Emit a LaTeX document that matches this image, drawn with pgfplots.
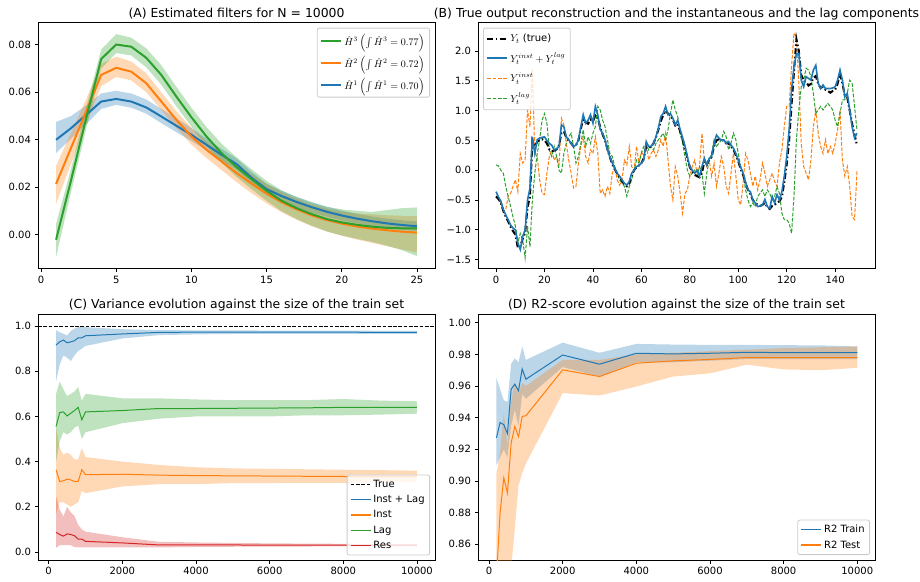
\documentclass[border=0pt]{standalone}
\usepackage{fontspec}
\setmainfont{DejaVu Sans}
\usepackage{pgfplots}
\usepackage{pgfplotstable}
\pgfplotsset{compat=1.18}
\usepgfplotslibrary{fillbetween}
\definecolor{c0}{HTML}{1F77B4}
\definecolor{c1}{HTML}{FF7F0E}
\definecolor{c2}{HTML}{2CA02C}
\definecolor{c3}{HTML}{D62728}
\definecolor{lgray}{HTML}{CCCCCC}

\pgfplotstableread{
x m lo hi
1 0.0400 0.0344 0.0475
2 0.0449 0.0405 0.0500
3 0.0505 0.0465 0.0545
4 0.0561 0.0530 0.0595
5 0.0572 0.0547 0.0606
6 0.0561 0.0535 0.0595
7 0.0536 0.0510 0.0570
8 0.0498 0.0470 0.0530
9 0.0459 0.0432 0.0490
10 0.0421 0.0395 0.0450
11 0.0379 0.0355 0.0405
12 0.0337 0.0313 0.0362
13 0.0298 0.0274 0.0322
14 0.0240 0.0217 0.0265
15 0.0192 0.0170 0.0215
16 0.0163 0.0141 0.0185
17 0.0138 0.0116 0.0160
18 0.0116 0.0094 0.0138
19 0.0097 0.0076 0.0118
20 0.0081 0.0060 0.0102
21 0.0068 0.0048 0.0088
22 0.0057 0.0037 0.0077
23 0.0048 0.0028 0.0068
24 0.0041 0.0021 0.0061
25 0.0036 0.0016 0.0056
}\tAone
\pgfplotstableread{
x m lo hi
1 0.0214 0.0130 0.0290
2 0.0366 0.0300 0.0430
3 0.0519 0.0465 0.0570
4 0.0673 0.0625 0.0720
5 0.0703 0.0665 0.0750
6 0.0687 0.0650 0.0730
7 0.0638 0.0600 0.0680
8 0.0561 0.0525 0.0600
9 0.0484 0.0450 0.0520
10 0.0414 0.0380 0.0450
11 0.0358 0.0323 0.0393
12 0.0309 0.0273 0.0345
13 0.0260 0.0222 0.0298
14 0.0215 0.0175 0.0255
15 0.0173 0.0132 0.0214
16 0.0137 0.0095 0.0179
17 0.0107 0.0063 0.0151
18 0.0082 0.0036 0.0128
19 0.0062 0.0014 0.0110
20 0.0047 -0.0004 0.0098
21 0.0035 -0.0020 0.0090
22 0.0026 -0.0034 0.0086
23 0.0019 -0.0048 0.0082
24 0.0013 -0.0062 0.0080
25 0.0009 -0.0075 0.0078
}\tAtwo
\pgfplotstableread{
x m lo hi
1 -0.0021 -0.0095 0.0045
2 0.0230 0.0180 0.0280
3 0.0490 0.0445 0.0535
4 0.0740 0.0700 0.0780
5 0.0801 0.0765 0.0845
6 0.0792 0.0755 0.0830
7 0.0745 0.0705 0.0785
8 0.0673 0.0632 0.0714
9 0.0582 0.0541 0.0623
10 0.0495 0.0455 0.0535
11 0.0414 0.0374 0.0454
12 0.0344 0.0304 0.0384
13 0.0285 0.0244 0.0326
14 0.0234 0.0192 0.0276
15 0.0185 0.0143 0.0227
16 0.0143 0.0099 0.0187
17 0.0112 0.0066 0.0158
18 0.0087 0.0038 0.0136
19 0.0066 0.0014 0.0118
20 0.0052 -0.0003 0.0107
21 0.0042 -0.0017 0.0101
22 0.0034 -0.0030 0.0096
23 0.0029 -0.0046 0.0104
24 0.0027 -0.0065 0.0112
25 0.0027 -0.0090 0.0115
}\tAthree

\pgfplotstableread{
t y yh yi yl
0 -0.44 -0.36 -0.44 0.09
1 -0.48 -0.45 -0.50 0.07
2 -0.55 -0.52 -0.55 0.00
3 -0.68 -0.66 -0.70 -0.05
4 -0.78 -0.75 -0.66 -0.27
5 -0.86 -0.83 -0.44 -0.44
6 -0.95 -0.92 -0.39 -0.61
7 -1.02 -0.97 -0.27 -0.78
8 -1.08 -1.00 -0.16 -0.94
9 -1.30 -1.22 -0.36 -1.22
10 -1.28 -1.33 0.28 -1.06
11 -1.15 -1.11 0.12 -1.17
12 -1.05 -1.00 0.17 -1.47
13 -0.62 -0.50 1.01 -0.94
14 -0.45 -0.30 0.73 -1.28
15 0.50 0.56 1.68 -0.50
16 0.40 0.28 0.28 -0.05
17 0.48 0.51 0.23 0.28
18 0.50 0.54 -0.16 0.51
19 0.52 0.55 -0.39 0.84
20 0.50 0.56 -0.41 0.95
21 0.45 0.50 -0.05 0.79
22 0.35 0.45 0.23 0.34
23 0.32 0.42 0.34 0.23
24 0.33 0.34 0.17 0.40
25 0.35 0.36 0.23 0.23
26 0.42 0.40 0.09 0.00
27 0.62 0.76 0.87 -0.05
28 0.65 0.73 0.76 0.28
29 0.55 0.56 0.45 0.45
30 0.50 0.51 0.17 0.56
31 0.45 0.45 -0.05 0.62
32 0.40 0.40 -0.30 0.40
33 0.42 0.42 -0.27 0.12
34 0.50 0.51 0.12 0.23
35 0.70 0.73 0.40 0.45
36 0.85 0.93 0.56 0.68
37 0.80 0.79 0.23 0.40
38 0.78 0.84 0.12 0.56
39 0.85 0.93 0.34 0.45
40 0.82 0.79 0.28 0.62
41 0.92 1.07 0.56 0.73
42 0.88 0.93 0.28 1.07
43 0.72 0.68 -0.39 1.01
44 0.60 0.62 -0.33 0.84
45 0.50 0.51 -0.44 0.73
46 0.35 0.34 -0.27 0.51
47 0.22 0.22 -0.39 0.28
48 0.10 0.12 -0.05 0.23
49 0.02 0.03 0.06 0.06
50 -0.06 -0.05 -0.16 -0.05
51 -0.12 -0.10 -0.25 -0.16
52 -0.18 -0.16 -0.16 -0.22
53 -0.24 -0.22 0.17 -0.27
54 -0.27 -0.25 0.09 -0.44
55 -0.22 -0.19 0.40 -0.27
56 -0.08 -0.05 0.06 -0.16
57 0.00 0.00 0.00 0.00
58 0.05 0.06 0.40 0.17
59 0.08 0.08 0.12 0.12
60 0.12 0.12 0.31 0.28
61 0.20 0.17 0.23 0.40
62 0.40 0.48 0.45 0.45
63 0.38 0.40 0.17 0.34
64 0.40 0.40 0.28 0.40
65 0.45 0.45 0.34 0.34
66 0.55 0.56 0.23 0.45
67 0.68 0.70 0.34 0.51
68 0.82 0.90 0.51 0.56
69 0.92 0.95 0.40 0.62
70 1.00 1.07 0.62 0.51
71 0.95 0.93 0.17 0.68
72 0.92 0.95 -0.27 0.95
73 0.85 0.87 -0.50 1.18
74 0.75 0.76 0.06 1.01
75 0.78 0.84 -0.10 0.90
76 0.65 0.68 -0.39 0.62
77 0.52 0.55 -0.72 0.45
78 0.38 0.40 -0.39 0.23
79 0.20 0.22 -0.33 0.00
80 0.05 0.06 -0.10 -0.10
81 -0.02 0.00 0.06 -0.05
82 -0.08 -0.05 0.17 0.00
83 -0.10 0.00 -0.05 -0.10
84 -0.12 -0.10 0.06 0.06
85 -0.05 0.06 0.62 -0.05
86 0.15 0.20 0.17 -0.39
87 0.10 0.09 0.06 -0.05
88 0.18 0.20 0.17 0.17
89 0.22 0.23 -0.10 0.28
90 0.40 0.45 0.12 0.51
91 0.50 0.59 -0.27 0.40
92 0.52 0.54 -0.05 0.45
93 0.50 0.50 0.23 0.51
94 0.50 0.51 0.06 0.65
95 0.45 0.45 -0.27 0.56
96 0.45 0.48 -0.39 0.34
97 0.40 0.42 -0.05 0.45
98 0.35 0.37 0.28 0.62
99 0.25 0.28 -0.10 0.51
100 0.15 0.17 -0.50 0.28
101 0.02 0.05 -0.58 0.06
102 -0.08 -0.05 -0.22 -0.05
103 -0.22 -0.20 0.28 -0.33
104 -0.33 -0.33 0.17 -0.50
105 -0.40 -0.36 -0.05 -0.61
106 -0.50 -0.50 -0.27 -0.55
107 -0.55 -0.55 -0.10 -0.61
108 -0.58 -0.61 -0.33 -0.44
109 -0.60 -0.60 -0.16 -0.39
110 -0.58 -0.58 0.12 -0.33
111 -0.55 -0.49 -0.05 -0.44
112 -0.62 -0.61 -0.27 -0.33
113 -0.65 -0.64 -0.16 -0.39
114 -0.60 -0.44 -0.05 -0.50
115 -0.58 -0.55 -0.19 -0.44
116 -0.55 -0.41 -0.27 -0.27
117 -0.52 -0.50 0.12 -0.39
118 -0.45 -0.36 0.34 -0.72
119 -0.20 -0.10 0.73 -0.83
120 0.10 0.23 1.07 -0.83
121 0.50 0.68 1.07 -0.89
122 1.10 1.35 1.74 -1.06
123 1.65 1.74 2.30 -0.44
124 2.20 1.95 2.24 0.51
125 2.00 1.96 1.46 1.01
126 1.60 1.51 0.45 1.40
127 1.50 1.40 0.06 1.51
128 1.48 1.57 -0.05 1.71
129 1.42 1.54 -0.16 1.68
130 1.45 1.51 0.17 1.57
131 1.55 1.68 0.73 1.29
132 1.58 1.76 1.01 0.95
133 1.45 1.46 0.62 1.01
134 1.38 1.37 0.40 1.07
135 1.40 1.43 0.28 1.01
136 1.35 1.37 0.51 1.07
137 1.33 1.37 0.28 1.12
138 1.30 1.37 0.40 1.07
139 1.33 1.38 0.28 1.01
140 1.35 1.40 0.45 0.84
141 1.45 1.51 0.68 0.73
142 1.62 1.68 1.01 0.95
143 1.45 1.51 0.17 1.18
144 1.25 1.23 -0.10 1.18
145 1.22 1.29 0.06 1.29
146 1.00 1.01 -0.27 1.51
147 0.78 0.73 -0.78 1.46
148 0.60 0.54 -0.83 1.07
149 0.42 0.62 -0.02 0.68
}\tB

\pgfplotstableread{
x m lo hi
200 0.916 0.755 0.982
300 0.930 0.830 0.972
400 0.938 0.870 0.966
500 0.926 0.860 0.958
600 0.930 0.845 0.978
700 0.935 0.870 0.988
800 0.948 0.890 0.996
900 0.948 0.900 0.996
1000 0.957 0.912 0.995
2000 0.965 0.945 0.986
3000 0.972 0.960 0.982
4000 0.973 0.963 0.981
5000 0.973 0.965 0.981
6000 0.973 0.965 0.980
7000 0.973 0.965 0.980
8000 0.973 0.965 0.980
9000 0.972 0.965 0.979
10000 0.972 0.965 0.979
}\tCil
\pgfplotstableread{
x m lo hi
200 0.364 0.170 0.550
300 0.312 0.220 0.460
400 0.315 0.220 0.430
500 0.322 0.210 0.440
600 0.319 0.200 0.430
700 0.312 0.210 0.410
800 0.312 0.220 0.410
900 0.364 0.270 0.460
1000 0.342 0.260 0.420
2000 0.344 0.290 0.400
3000 0.340 0.300 0.385
4000 0.338 0.300 0.375
5000 0.337 0.305 0.370
6000 0.336 0.305 0.368
7000 0.335 0.306 0.366
8000 0.334 0.306 0.364
9000 0.334 0.308 0.362
10000 0.334 0.310 0.360
}\tCi
\pgfplotstableread{
x m lo hi
200 0.555 0.400 0.700
300 0.617 0.490 0.754
400 0.620 0.530 0.720
500 0.602 0.520 0.690
600 0.614 0.530 0.700
700 0.626 0.550 0.710
800 0.640 0.560 0.730
900 0.585 0.500 0.670
1000 0.620 0.530 0.700
2000 0.626 0.570 0.680
3000 0.635 0.590 0.680
4000 0.635 0.600 0.675
5000 0.636 0.600 0.672
6000 0.637 0.600 0.672
7000 0.638 0.605 0.672
8000 0.640 0.605 0.677
9000 0.640 0.608 0.670
10000 0.640 0.612 0.667
}\tCl
\pgfplotstableread{
x m lo hi
200 0.087 0.018 0.246
300 0.077 0.030 0.187
400 0.070 0.030 0.157
500 0.080 0.030 0.200
600 0.077 0.030 0.175
700 0.072 0.022 0.160
800 0.057 0.020 0.120
900 0.057 0.020 0.100
1000 0.047 0.020 0.090
2000 0.040 0.020 0.065
3000 0.031 0.020 0.045
4000 0.031 0.022 0.042
5000 0.031 0.023 0.040
6000 0.030 0.024 0.038
7000 0.030 0.024 0.037
8000 0.030 0.025 0.036
9000 0.030 0.025 0.035
10000 0.030 0.025 0.035
}\tCr

\pgfplotstableread{
x m lo hi
200 0.9272 0.910 0.965
300 0.9370 0.915 0.958
400 0.9356 0.920 0.951
500 0.9300 0.915 0.950
600 0.9580 0.935 0.974
700 0.9612 0.945 0.9775
800 0.9570 0.935 0.975
900 0.9708 0.955 0.985
1000 0.9643 0.952 0.9765
2000 0.9796 0.972 0.9874
3000 0.9738 0.966 0.981
4000 0.9807 0.975 0.9866
5000 0.9803 0.975 0.9862
6000 0.9807 0.976 0.986
7000 0.9813 0.977 0.986
8000 0.9811 0.977 0.9858
9000 0.9811 0.977 0.9857
10000 0.9811 0.977 0.985
}\tDtr
\pgfplotstableread{
x m lo hi
200 0.8390 0.780 0.905
300 0.8800 0.820 0.918
400 0.9020 0.840 0.943
500 0.8925 0.840 0.922
600 0.9240 0.845 0.950
700 0.9345 0.870 0.962
800 0.9280 0.897 0.955
900 0.9408 0.905 0.962
1000 0.9412 0.911 0.960
2000 0.9702 0.9555 0.9765
3000 0.9660 0.954 0.9765
4000 0.9744 0.9597 0.980
5000 0.9759 0.966 0.981
6000 0.9768 0.968 0.982
7000 0.9780 0.9735 0.983
8000 0.9780 0.9705 0.984
9000 0.9780 0.970 0.9845
10000 0.9780 0.9715 0.985
}\tDte

\pgfplotsset{
  mpl/.style={
    scale only axis, width=397pt, height=246pt,
    scaled ticks=false,
    axis line style={line width=0.8pt, black},
    tick style={line width=0.8pt, black},
    major tick length=3.5pt,
    tick align=outside, xtick pos=bottom, ytick pos=left,
    minor tick num=0,
    ticklabel style={font=\fontsize{10}{12}\selectfont},
    every axis title/.style={at={(0.5,1)}, anchor=base, yshift=5.5pt, inner sep=0pt, font=\fontsize{12.4}{14}\selectfont},
    legend style={font=\fontsize{10}{12}\selectfont, draw=lgray, line width=0.8pt, rounded corners=2pt,
      fill=white, fill opacity=0.8, text opacity=1, draw opacity=1,
      inner xsep=3pt, inner ysep=3pt, row sep=1pt,
      nodes={inner sep=2pt}},
    legend cell align=left,
    legend image code/.code={\draw[##1] (0pt,0pt) -- (20pt,0pt);},
  },
  band/.style={draw=none, fill=#1, fill opacity=0.3, forget plot},
}

\begin{document}
\begin{tikzpicture}
\path (0,0) rectangle (920pt,-581pt);

% ---------- (A)
\begin{axis}[mpl, at={(38pt,-22.7pt)}, anchor=north west,
  title={(A) Estimated filters for N = 10000},
  xmin=-0.2, xmax=26.2, ymin=-0.0143, ymax=0.0893,
  xtick={0,5,10,15,20,25}, xticklabels={0,5,10,15,20,25},
  ytick={0,0.02,0.04,0.06,0.08}, yticklabels={0.00,0.02,0.04,0.06,0.08},
  legend style={at={(1,1)}, xshift=-5pt, yshift=-5pt, anchor=north east, row sep=5pt, inner ysep=4pt},
]
\addplot[draw=none, name path=a1u, forget plot] table[x=x,y=hi]{\tAone};
\addplot[draw=none, name path=a1l, forget plot] table[x=x,y=lo]{\tAone};
\addplot[band=c0] fill between[of=a1u and a1l];
\addplot[draw=c0, line width=2pt, forget plot] table[x=x,y=m]{\tAone};
\addplot[draw=none, name path=a2u, forget plot] table[x=x,y=hi]{\tAtwo};
\addplot[draw=none, name path=a2l, forget plot] table[x=x,y=lo]{\tAtwo};
\addplot[band=c1] fill between[of=a2u and a2l];
\addplot[draw=c1, line width=2pt, forget plot] table[x=x,y=m]{\tAtwo};
\addplot[draw=none, name path=a3u, forget plot] table[x=x,y=hi]{\tAthree};
\addplot[draw=none, name path=a3l, forget plot] table[x=x,y=lo]{\tAthree};
\addplot[band=c2] fill between[of=a3u and a3l];
\addplot[draw=c2, line width=2pt, forget plot] table[x=x,y=m]{\tAthree};
\addlegendimage{draw=c2, line width=2pt}
\addlegendentry{$\hat{H}^3\left(\int\hat{H}^3 = 0.77\right)$}
\addlegendimage{draw=c1, line width=2pt}
\addlegendentry{$\hat{H}^2\left(\int\hat{H}^2 = 0.72\right)$}
\addlegendimage{draw=c0, line width=2pt}
\addlegendentry{$\hat{H}^1\left(\int\hat{H}^1 = 0.70\right)$}
\end{axis}

% ---------- (B)
\begin{axis}[mpl, at={(478pt,-22.7pt)}, anchor=north west,
  title={(B) True output reconstruction and the instantaneous and the lag components},
  xmin=-7.45, xmax=156.45, ymin=-1.652, ymax=2.474,
  xtick={0,20,40,60,80,100,120,140}, xticklabels={0,20,40,60,80,100,120,140},
  ytick={-1.5,-1,-0.5,0,0.5,1,1.5,2}, yticklabels={−1.5,−1.0,−0.5,0.0,0.5,1.0,1.5,2.0},
  legend style={at={(0,1)}, xshift=5pt, yshift=-5pt, anchor=north west, row sep=5.5pt, inner ysep=4pt},
]
\addplot[draw=c1, line width=1pt, dash pattern=on 3.7pt off 1.6pt, forget plot] table[x=t,y=yi]{\tB};
\addplot[draw=c2, line width=1pt, dash pattern=on 3.7pt off 1.6pt, forget plot] table[x=t,y=yl]{\tB};
\addplot[draw=black, line width=2pt, dash pattern=on 6pt off 2.5pt on 1.5pt off 2.5pt, forget plot] table[x=t,y=y]{\tB};
\addplot[draw=c0, line width=1.6pt, forget plot] table[x=t,y=yh]{\tB};
\addlegendimage{draw=black, line width=2pt, dash pattern=on 6pt off 2.5pt on 1.5pt off 2.5pt}
\addlegendentry{$Y_t$ (true)}
\addlegendimage{draw=c0, line width=1.6pt}
\addlegendentry{$Y_t^{inst} + Y_t^{lag}$}
\addlegendimage{draw=c1, line width=1.2pt, dash pattern=on 3.7pt off 1.6pt}
\addlegendentry{$Y_t^{inst}$}
\addlegendimage{draw=c2, line width=1.2pt, dash pattern=on 3.7pt off 1.6pt}
\addlegendentry{$Y_t^{lag}$}
\end{axis}

% ---------- (C)
\begin{axis}[mpl, at={(38pt,-314.3pt)}, anchor=north west,
  title={(C) Variance evolution against the size of the train set},
  xmin=-290, xmax=10490, ymin=-0.037, ymax=1.052,
  xtick={0,2000,4000,6000,8000,10000}, xticklabels={0,2000,4000,6000,8000,10000},
  ytick={0,0.2,0.4,0.6,0.8,1}, yticklabels={0.0,0.2,0.4,0.6,0.8,1.0},
  legend style={at={(1,0)}, xshift=-5pt, yshift=5pt, anchor=south east, row sep=2.5pt, inner ysep=3pt},
]
\addplot[draw=black, line width=1pt, dash pattern=on 3.7pt off 1.6pt, forget plot] coordinates {(-290,1) (10490,1)};
\addplot[draw=none, name path=c1u, forget plot] table[x=x,y=hi]{\tCil};
\addplot[draw=none, name path=c1l, forget plot] table[x=x,y=lo]{\tCil};
\addplot[band=c0] fill between[of=c1u and c1l];
\addplot[draw=c0, line width=1pt, forget plot] table[x=x,y=m]{\tCil};
\addplot[draw=none, name path=c2u, forget plot] table[x=x,y=hi]{\tCi};
\addplot[draw=none, name path=c2l, forget plot] table[x=x,y=lo]{\tCi};
\addplot[band=c1] fill between[of=c2u and c2l];
\addplot[draw=c1, line width=1pt, forget plot] table[x=x,y=m]{\tCi};
\addplot[draw=none, name path=c3u, forget plot] table[x=x,y=hi]{\tCl};
\addplot[draw=none, name path=c3l, forget plot] table[x=x,y=lo]{\tCl};
\addplot[band=c2] fill between[of=c3u and c3l];
\addplot[draw=c2, line width=1pt, forget plot] table[x=x,y=m]{\tCl};
\addplot[draw=none, name path=c4u, forget plot] table[x=x,y=hi]{\tCr};
\addplot[draw=none, name path=c4l, forget plot] table[x=x,y=lo]{\tCr};
\addplot[band=c3] fill between[of=c4u and c4l];
\addplot[draw=c3, line width=1pt, forget plot] table[x=x,y=m]{\tCr};
\addlegendimage{draw=black, line width=1.2pt, dash pattern=on 3.7pt off 1.6pt}
\addlegendentry{True}
\addlegendimage{draw=c0, line width=1.3pt}
\addlegendentry{Inst + Lag}
\addlegendimage{draw=c1, line width=1.3pt}
\addlegendentry{Inst}
\addlegendimage{draw=c2, line width=1.3pt}
\addlegendentry{Lag}
\addlegendimage{draw=c3, line width=1.3pt}
\addlegendentry{Res}
\end{axis}

% ---------- (D)
\begin{axis}[mpl, at={(478pt,-314pt)}, anchor=north west,
  title={(D) R2-score evolution against the size of the train set},
  xmin=-300, xmax=10482, ymin=0.8501, ymax=1.0055,
  xtick={0,2000,4000,6000,8000,10000}, xticklabels={0,2000,4000,6000,8000,10000},
  ytick={0.86,0.88,0.90,0.92,0.94,0.96,0.98,1.00}, yticklabels={0.86,0.88,0.90,0.92,0.94,0.96,0.98,1.00},
  legend style={at={(1,0)}, xshift=-5pt, yshift=5pt, anchor=south east, row sep=2.5pt, inner ysep=3pt},
]
\addplot[draw=none, name path=d1u, forget plot] table[x=x,y=hi]{\tDtr};
\addplot[draw=none, name path=d1l, forget plot] table[x=x,y=lo]{\tDtr};
\addplot[band=c0] fill between[of=d1u and d1l];
\addplot[draw=c0, line width=1pt, forget plot] table[x=x,y=m]{\tDtr};
\addplot[draw=none, name path=d2u, forget plot] table[x=x,y=hi]{\tDte};
\addplot[draw=none, name path=d2l, forget plot] table[x=x,y=lo]{\tDte};
\addplot[band=c1] fill between[of=d2u and d2l];
\addplot[draw=c1, line width=1pt, forget plot] table[x=x,y=m]{\tDte};
\addlegendimage{draw=c0, line width=1.3pt}
\addlegendentry{R2 Train}
\addlegendimage{draw=c1, line width=1.3pt}
\addlegendentry{R2 Test}
\end{axis}
\end{tikzpicture}
\end{document}
